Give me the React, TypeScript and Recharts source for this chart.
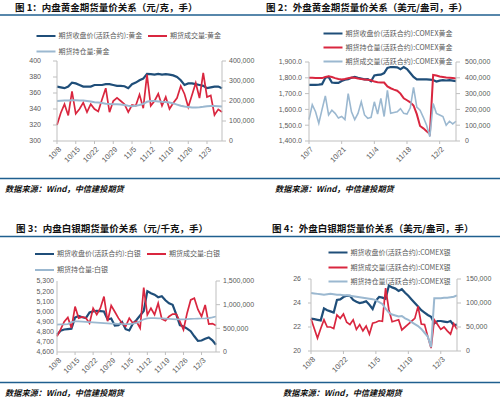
import React from 'react';
import { LineChart, Line, XAxis, YAxis } from 'recharts';

const FONT = '"Liberation Sans", Arial, sans-serif';
const CJK = '"Noto Sans CJK SC", sans-serif';
const DARK = '#1f4e79';
const RED = '#d9263f';
const LIGHT = '#9bb8d0';
const AXIS = '#bfbfbf';
const TXT = '#595959';
const RULE = '#1f5f8f';

// ---------- Panel 1: SHFE gold ----------
const dates1 = ['10/8','10/9','10/12','10/13','10/14','10/15','10/16','10/19','10/20','10/21','10/22','10/23','10/26','10/27','10/28','10/29','10/30','11/2','11/3','11/4','11/5','11/6','11/9','11/10','11/11','11/12','11/13','11/16','11/17','11/18','11/19','11/20','11/23','11/24','11/25','11/26','11/27','11/30','12/1','12/2','12/3','12/4','12/7','12/8','12/9'];
const goldCnPrice = [368,367,366,368,373,372,370,368,368,368,370,370,370,371,371,370,369,369,368.5,366,371,373,376,378,384,383.5,383,384,383,383.5,383,382,380,376,370,372,372,371,370,369,366,367,368,368,366];
const goldCnVolK = [80,140,184,128,248,136,160,192,144,184,160,148,208,264,144,200,216,200,184,144,180,176,232,164,332,176,200,236,176,220,160,190,215,275,235,170,230,290,215,340,220,228,130,158,145];
const goldCnOIK = [200,201,202,203,204,204,203,202,200,198,194,192,190,186,185,184,184,183,180,176,174,176,180,186,196,200,200,198,196,195,192,188,182,176,172,170,168,168,169,171,174,175,175,174,172];

// ---------- Panel 2: COMEX gold ----------
const dates2 = ['10/7','10/8','10/9','10/12','10/13','10/14','10/15','10/16','10/19','10/20','10/21','10/22','10/23','10/26','10/27','10/28','10/29','10/30','11/2','11/3','11/4','11/5','11/6','11/9','11/10','11/11','11/12','11/13','11/16','11/17','11/18','11/19','11/20','11/23','11/24','11/25','11/26','11/27','11/30','12/1','12/2','12/3','12/4','12/7','12/8','12/9'];
const goldUsPrice = [1755,1755,1755,1757,1760,1800,1806,1770,1768,1768,1780,1788,1792,1800,1806,1800,1795,1790,1792,1778,1815,1818,1820,1830,1862,1868,1868,1866,1855,1868,1855,1830,1805,1790,1790,1790,1790,1788,1786,1776,1782,1785,1783,1785,1782,1778];
const goldUsOIK = [400,400,399,398,398,405,410,405,398,392,390,392,397,402,400,395,392,390,388,384,376,372,371,370,345,334,325,318,300,270,258,245,225,170,95,80,62,45,418,415,408,405,402,400,398,396];
const goldUsVolK = [135,230,185,112,200,285,165,195,175,145,155,135,300,185,135,175,248,165,143,150,248,170,270,155,320,175,180,185,205,175,170,210,340,215,195,150,100,27,237,175,165,155,100,125,108,125];

// ---------- Panel 3: SHFE silver ----------
const silverCnPrice = [4770,4810,4822,4826,4830,4940,4955,4942,4935,4990,5000,5005,5003,5000,4920,4930,4860,4865,4895,4825,4812,4880,4915,4960,5005,5200,5180,5165,5140,5150,5110,5080,5065,4970,4865,4852,4830,4805,4755,4710,4713,4730,4744,4715,4672];
const silverCnVolK = [330,480,640,730,510,960,715,740,720,610,925,790,925,1170,650,980,850,715,610,540,715,610,645,505,1360,785,925,790,1030,700,660,750,800,800,645,470,820,1100,1135,900,750,995,590,600,560];
const silverCnOIK = [580,582,585,590,630,645,645,640,635,630,625,620,615,610,605,600,598,595,592,590,590,598,615,650,690,710,715,715,712,710,705,700,695,690,688,690,695,700,702,705,708,710,715,730,750];

// ---------- Panel 4: COMEX silver ----------
const dates4 = ['10/8','10/9','10/12','10/13','10/14','10/15','10/16','10/19','10/20','10/21','10/22','10/23','10/26','10/27','10/28','10/29','10/30','11/2','11/3','11/4','11/5','11/6','11/9','11/10','11/11','11/12','11/13','11/16','11/17','11/18','11/19','11/20','11/23','11/24','11/25','11/26','11/27','11/30','12/1','12/2','12/3','12/4','12/7','12/8','12/9','12/10'];
const silverUsPrice = [22.7,22.65,22.6,22.55,23.55,23.4,23.3,23.2,24.25,24.3,24.5,24.6,24.6,24.25,24.1,24.0,24.05,24.15,23.85,23.5,24.2,24.5,24.45,24.35,25.45,25.3,25.2,25.0,25.15,24.85,24.6,24.3,24.0,23.7,23.4,23.2,23.0,22.85,22.3,22.5,22.5,22.45,22.4,22.5,22.15,22.2];
const silverUsVolK = [67,47,27,47,65,50,50,47,75,68,77,60,55,65,45,55,42,52,35,58,60,63,62,131,86,61,63,65,44,50,56,62,68,93,56,55,30,6,65,55,45,50,42,35,57,45];
const silverUsOIK = [121,120,119,118,117,118,119,118,117,117,116,116,115,114,113,112,111,110,109,108,106,102,98,88,80,76,74,72,73,68,65,60,56,52,46,38,30,8,110,110,110,111,111,112,113,116];

const data1 = dates1.map((d, i) => ({ d, p: goldCnPrice[i], v: goldCnVolK[i] * 1000, o: goldCnOIK[i] * 1000 }));
const data2 = dates2.map((d, i) => ({ d, p: goldUsPrice[i], o: goldUsOIK[i] * 1000, v: goldUsVolK[i] * 1000 }));
const data3 = dates1.map((d, i) => ({ d, p: silverCnPrice[i], v: silverCnVolK[i] * 1000, o: silverCnOIK[i] * 1000 }));
const data4 = dates4.map((d, i) => ({ d, p: silverUsPrice[i], v: silverUsVolK[i] * 1000, o: silverUsOIK[i] * 1000 }));

const fmt = (v: number) => v.toLocaleString('en-US');
const fmt1 = (v: number) => v.toLocaleString('en-US', { minimumFractionDigits: 1, maximumFractionDigits: 1 });

function XTick(props: any) {
  const { x, y, payload } = props;
  return (
    <text transform={`translate(${x + 1},${y + 2}) rotate(-45)`} textAnchor="end" dy="0.71em" fontSize={7.5} fill={TXT} fontFamily={FONT}>
      {payload.value}
    </text>
  );
}

type Series = { key: string; color: string; width: number; axis: 'l' | 'r' };

function Panel(props: any) {
  const { left, top, width, height, mt, lw, rw, xh, data, interval, lDomain, lTicks, lFmt, rDomain, rTicks, rFmt, series, lts, ltm, rts, rtm } = props;
  return (
    <div style={{ position: 'absolute', left, top, width, height }}>
      <LineChart width={width} height={height} data={data} margin={{ top: mt, right: 0, bottom: 0, left: 0 }} style={{ fontFamily: FONT }}>
        <XAxis dataKey="d" interval={interval} height={xh} tick={<XTick />} tickSize={3} tickMargin={0} stroke={AXIS} tickLine={{ stroke: AXIS }} />
        <YAxis yAxisId="l" orientation="left" width={lw} domain={lDomain} ticks={lTicks} interval={0} tickFormatter={lFmt} tick={{ fontSize: 7, fill: TXT, fontFamily: FONT }} tickSize={lts} tickMargin={ltm} stroke={AXIS} allowDataOverflow />
        <YAxis yAxisId="r" orientation="right" width={rw} domain={rDomain} ticks={rTicks} interval={0} tickFormatter={rFmt} tick={{ fontSize: 7, fill: TXT, fontFamily: FONT }} tickSize={rts} tickMargin={rtm} stroke={AXIS} allowDataOverflow />
        {series.map((s: Series) => (
          <Line key={s.key} yAxisId={s.axis} dataKey={s.key} stroke={s.color} strokeWidth={s.width} dot={false} activeDot={false} isAnimationActive={false} type="linear" />
        ))}
      </LineChart>
    </div>
  );
}

function LegendItem({ x, y, color, label }: { x: number; y: number; color: string; label: string }) {
  return (
    <g>
      <line x1={x} y1={y} x2={x + 19} y2={y} stroke={color} strokeWidth={2} />
      <text x={x + 22} y={y} dy="0.35em" fontSize={7} fill={TXT} fontFamily={CJK}>{label}</text>
    </g>
  );
}

function Overlay() {
  const title = { fontSize: 9.5, fontWeight: 700, fill: '#111', fontFamily: CJK } as any;
  const src = { fontSize: 8.2, fontWeight: 700, fontStyle: 'italic', fill: '#111', fontFamily: CJK } as any;
  return (
    <svg width={500} height={399} style={{ position: 'absolute', left: 0, top: 0 }}>
      <text x={15} y={11} {...title}>图 1：内盘黄金期货量价关系（元/克，手）</text>
      <text x={266} y={11} {...title}>图 2：外盘黄金期货量价关系（美元/盎司，手）</text>
      <text x={16} y={231.5} {...title}>图 3：内盘白银期货量价关系（元/千克，手）</text>
      <text x={272} y={231.5} {...title}>图 4：外盘白银期货量价关系（美元/盎司，手）</text>
      <line x1={0} x2={500} y1={15} y2={15} stroke={RULE} strokeWidth={1.5} />
      <line x1={0} x2={500} y1={178.5} y2={178.5} stroke={RULE} strokeWidth={1.5} />
      <line x1={0} x2={500} y1={236.5} y2={236.5} stroke={RULE} strokeWidth={1.5} />
      <line x1={0} x2={500} y1={382.5} y2={382.5} stroke={RULE} strokeWidth={1.5} />
      <text x={5} y={191.5} {...src}>数据来源：Wind，中信建投期货</text>
      <text x={275} y={191.5} {...src}>数据来源：Wind，中信建投期货</text>
      <text x={5} y={396} {...src}>数据来源：Wind，中信建投期货</text>
      <text x={283} y={396} {...src}>数据来源：Wind，中信建投期货</text>

      <LegendItem x={36.5} y={36} color={DARK} label="期货收盘价(活跃合约):黄金" />
      <LegendItem x={148} y={36} color={RED} label="期货成交量:黄金" />
      <LegendItem x={36.5} y={51.5} color={LIGHT} label="期货持仓量:黄金" />

      <LegendItem x={323.5} y={33.5} color={DARK} label="期货收盘价(活跃合约):COMEX黄金" />
      <LegendItem x={323.5} y={47.5} color={RED} label="期货持仓量(活跃合约):COMEX黄金" />
      <LegendItem x={323.5} y={61.5} color={LIGHT} label="期货成交量(活跃合约):COMEX黄金" />

      <LegendItem x={35} y={254} color={DARK} label="期货收盘价(活跃合约):白银" />
      <LegendItem x={147} y={254} color={RED} label="期货成交量:白银" />
      <LegendItem x={35} y={270} color={LIGHT} label="期货持仓量:白银" />

      <LegendItem x={328.5} y={252.5} color={DARK} label="期货收盘价(活跃合约):COMEX银" />
      <LegendItem x={328.5} y={267.5} color={RED} label="期货成交量(活跃合约):COMEX银" />
      <LegendItem x={328.5} y={281.5} color={LIGHT} label="期货持仓量(活跃合约):COMEX银" />
    </svg>
  );
}

export default function App() {
  return (
    <div style={{ position: 'absolute', left: 0, top: 0, width: 500, height: 399, background: '#fff', overflow: 'hidden' }}>
      <Overlay />
      <Panel left={0} top={50} width={265} height={130} mt={11} lw={57} rw={43} xh={39} data={data1} interval={4}
        lDomain={[300, 400]} lTicks={[300, 320, 340, 360, 380, 400]} lFmt={fmt}
        rDomain={[0, 400000]} rTicks={[0, 100000, 200000, 300000, 400000]} rFmt={fmt}
        lts={4} ltm={12} rts={4} rtm={3}
        series={[{ key: 'p', color: DARK, width: 2.2, axis: 'l' }, { key: 'v', color: RED, width: 1.7, axis: 'r' }, { key: 'o', color: LIGHT, width: 2, axis: 'r' }]} />
      <Panel left={250} top={50} width={250} height={130} mt={12} lw={59} rw={44} xh={39} data={data2} interval={9}
        lDomain={[1400, 1900]} lTicks={[1400, 1500, 1600, 1700, 1800, 1900]} lFmt={fmt1}
        rDomain={[0, 500000]} rTicks={[0, 100000, 200000, 300000, 400000, 500000]} rFmt={fmt}
        lts={4} ltm={3} rts={4} rtm={5}
        series={[{ key: 'p', color: DARK, width: 2.2, axis: 'l' }, { key: 'o', color: RED, width: 2, axis: 'r' }, { key: 'v', color: LIGHT, width: 1.6, axis: 'r' }]} />
      <Panel left={0} top={270} width={265} height={110} mt={11} lw={57} rw={49} xh={28} data={data3} interval={4}
        lDomain={[4600, 5300]} lTicks={[4600, 4700, 4800, 4900, 5000, 5100, 5200, 5300]} lFmt={fmt}
        rDomain={[0, 1500000]} rTicks={[0, 500000, 1000000, 1500000]} rFmt={fmt}
        lts={0} ltm={3} rts={4} rtm={3}
        series={[{ key: 'p', color: DARK, width: 2.2, axis: 'l' }, { key: 'v', color: RED, width: 1.7, axis: 'r' }, { key: 'o', color: LIGHT, width: 1.7, axis: 'r' }]} />
      <Panel left={250} top={268} width={250} height={112} mt={11} lw={61} rw={43} xh={29} data={data4} interval={9}
        lDomain={[20, 26]} lTicks={[20, 22, 24, 26]} lFmt={fmt}
        rDomain={[0, 150000]} rTicks={[0, 50000, 100000, 150000]} rFmt={fmt}
        lts={3} ltm={7} rts={4} rtm={5}
        series={[{ key: 'p', color: DARK, width: 2.2, axis: 'l' }, { key: 'v', color: RED, width: 1.7, axis: 'r' }, { key: 'o', color: LIGHT, width: 2, axis: 'r' }]} />
    </div>
  );
}
